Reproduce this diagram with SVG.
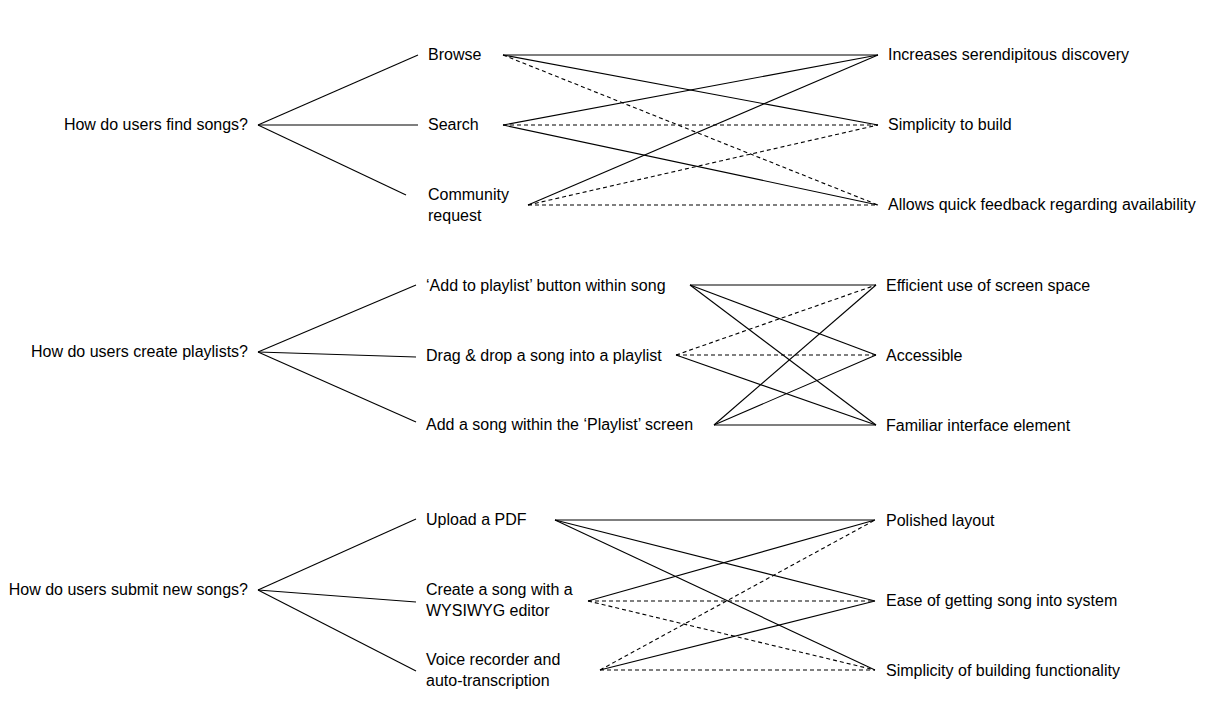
<svg xmlns="http://www.w3.org/2000/svg" width="1210" height="710" viewBox="0 0 1210 710">
<style>
text{font-family:"Liberation Sans",Arial,sans-serif;font-size:16px;fill:#000}
.q{text-anchor:end}
line{stroke:#000;stroke-width:1.1;fill:none}
.d{stroke-dasharray:4 3}
</style>
<rect width="1210" height="710" fill="#fff"/>
<g id="connectors">
<line x1="258" y1="125" x2="418" y2="55"/>
<line x1="258" y1="125" x2="418" y2="125"/>
<line x1="258" y1="125" x2="406" y2="195"/>
<line x1="503" y1="55" x2="878" y2="55"/>
<line x1="503" y1="55" x2="878" y2="125"/>
<line class="d" x1="503" y1="55" x2="878" y2="205"/>
<line x1="503" y1="125" x2="878" y2="55"/>
<line class="d" x1="503" y1="125" x2="878" y2="125"/>
<line x1="503" y1="125" x2="878" y2="205"/>
<line x1="528" y1="205" x2="878" y2="55"/>
<line class="d" x1="528" y1="205" x2="878" y2="125"/>
<line class="d" x1="528" y1="205" x2="878" y2="205"/>
<line x1="258" y1="352" x2="416" y2="285"/>
<line x1="258" y1="352" x2="416" y2="357"/>
<line x1="258" y1="352" x2="416" y2="422"/>
<line x1="690" y1="285" x2="876" y2="285"/>
<line x1="690" y1="285" x2="876" y2="355"/>
<line x1="690" y1="285" x2="876" y2="425"/>
<line class="d" x1="676" y1="355" x2="876" y2="285"/>
<line class="d" x1="676" y1="355" x2="876" y2="355"/>
<line x1="676" y1="355" x2="876" y2="425"/>
<line x1="714" y1="425" x2="876" y2="285"/>
<line x1="714" y1="425" x2="876" y2="355"/>
<line x1="714" y1="425" x2="876" y2="425"/>
<line x1="258" y1="590" x2="416" y2="519"/>
<line x1="258" y1="590" x2="416" y2="602"/>
<line x1="258" y1="590" x2="416" y2="671"/>
<line x1="555" y1="520" x2="875" y2="520"/>
<line x1="555" y1="520" x2="875" y2="601"/>
<line x1="555" y1="520" x2="875" y2="670"/>
<line x1="588" y1="601" x2="875" y2="520"/>
<line class="d" x1="588" y1="601" x2="875" y2="601"/>
<line class="d" x1="588" y1="601" x2="875" y2="670"/>
<line class="d" x1="600" y1="670" x2="875" y2="520"/>
<line x1="600" y1="670" x2="875" y2="601"/>
<line class="d" x1="600" y1="670" x2="875" y2="670"/>
</g>
<g id="q1"><text class="q" x="248" y="130">How do users find songs?</text></g>
<g id="browse"><text x="428" y="60">Browse</text></g>
<g id="search"><text x="428" y="130">Search</text></g>
<g id="community"><text x="428" y="200">Community</text><text x="428" y="221">request</text></g>
<g id="serendipity"><text x="888" y="60">Increases serendipitous discovery</text></g>
<g id="simplicity"><text x="888" y="130">Simplicity to build</text></g>
<g id="feedback"><text x="888" y="210">Allows quick feedback regarding availability</text></g>
<g id="q2"><text class="q" x="248" y="357">How do users create playlists?</text></g>
<g id="addbtn"><text x="426" y="291">‘Add to playlist’ button within song</text></g>
<g id="drag"><text x="426" y="361">Drag &amp; drop a song into a playlist</text></g>
<g id="addscreen"><text x="426" y="430">Add a song within the ‘Playlist’ screen</text></g>
<g id="efficient"><text x="886" y="291">Efficient use of screen space</text></g>
<g id="accessible"><text x="886" y="361">Accessible</text></g>
<g id="familiar"><text x="886" y="431">Familiar interface element</text></g>
<g id="q3"><text class="q" x="248" y="595">How do users submit new songs?</text></g>
<g id="upload"><text x="426" y="525">Upload a PDF</text></g>
<g id="wysiwyg"><text x="426" y="595">Create a song with a</text><text x="426" y="616">WYSIWYG editor</text></g>
<g id="voice"><text x="426" y="665">Voice recorder and</text><text x="426" y="686">auto-transcription</text></g>
<g id="polished"><text x="886" y="526">Polished layout</text></g>
<g id="ease"><text x="886" y="606">Ease of getting song into system</text></g>
<g id="simplefunc"><text x="886" y="676">Simplicity of building functionality</text></g>
</svg>
